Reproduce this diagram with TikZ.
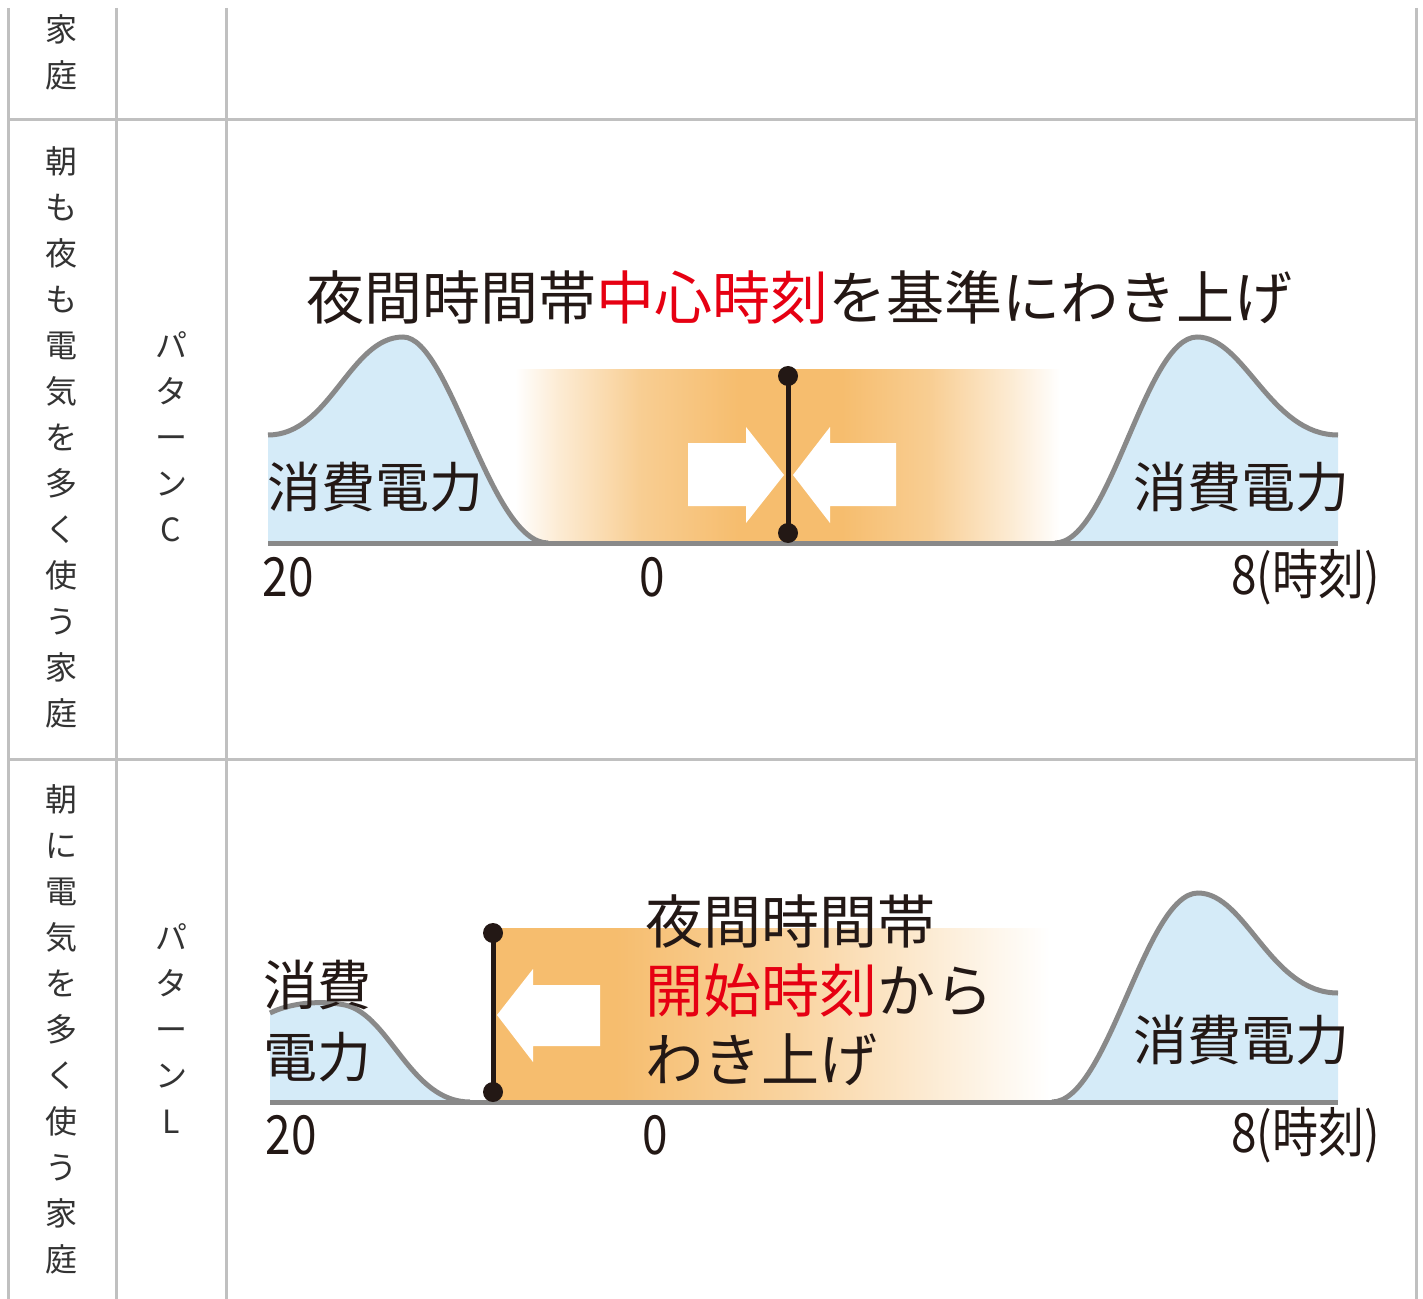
\documentclass[tikz,border=0pt]{standalone}
\usepackage{fontspec}
\setmainfont{Noto Sans CJK JP}
\newfontfamily\narrowfont{Noto Sans CJK JP}[FakeStretch=0.85]
\usetikzlibrary{positioning}
\definecolor{gridgray}{RGB}{192,192,192}
\definecolor{celltext}{RGB}{51,51,51}
\definecolor{curvegray}{RGB}{137,137,137}
\definecolor{bumpblue}{RGB}{213,235,248}
\definecolor{bandorange}{RGB}{246,189,110}
\definecolor{inkblack}{RGB}{35,24,21}
\definecolor{accentred}{RGB}{230,0,18}
% night-band fades (path box = 25bp..75bp)
\pgfdeclarehorizontalshading{nightC}{100bp}{color(0bp)=(white); color(25bp)=(white);
  color(29bp)=(bandorange!30); color(36.5bp)=(bandorange!75); color(45.5bp)=(bandorange);
  color(55bp)=(bandorange); color(63bp)=(bandorange!75); color(70.5bp)=(bandorange!30);
  color(75bp)=(white); color(100bp)=(white)}
\pgfdeclarehorizontalshading{nightL}{100bp}{color(0bp)=(bandorange); color(36bp)=(bandorange);
  color(52bp)=(bandorange!65); color(66bp)=(bandorange!25); color(75bp)=(white);
  color(100bp)=(white)}
\tikzset{
  rule/.style={draw=gridgray, line width=1.5pt},
  vch/.style={font=\fontsize{16}{16}\selectfont, text=celltext, inner sep=0pt,
    text height=0.88em, text depth=0.12em},
  lbl/.style={font=\fontsize{27}{36}\selectfont, text=inkblack, inner sep=0pt},
  ttl/.style={font=\fontsize{29}{34.5}\selectfont, text=inkblack, inner sep=0pt},
  tick/.style={font=\narrowfont\fontsize{27}{27}\selectfont, text=inkblack, inner sep=0pt},
  curve/.style={draw=curvegray, line width=2.5pt},
  pin/.style={circle, fill=inkblack, minimum size=10pt, inner sep=0pt},
  pole/.style={draw=inkblack, line width=2.5pt},
}
\begin{document}
\begin{tikzpicture}[x=0.5pt, y=-0.5pt]
  \useasboundingbox (0,0) rectangle (1423,1299);
  % table rules
  \foreach \x in {8,116,226,1416} \draw[rule] (\x,8) -- (\x,1299);
  \foreach \y in {120,759} \draw[rule] (7,\y) -- (1418,\y);
  % row captions
  \foreach \ch [count=\i] in {家,庭}
    \node[vch] (top\i) at (62,{34+46*(\i-1)}) {\ch};
  \foreach \ch [count=\i] in {朝,も,夜,も,電,気,を,多,く,使,う,家,庭}
    \node[vch] (rowC\i) at (62,{166+46*(\i-1)}) {\ch};
  \foreach \ch [count=\i] in {パ,タ,ー,ン,C}
    \node[vch] (patC\i) at (171,{350+46*(\i-1)}) {\ch};
  \foreach \ch [count=\i] in {朝,に,電,気,を,多,く,使,う,家,庭}
    \node[vch] (rowL\i) at (62,{804+46*(\i-1)}) {\ch};
  \foreach \ch [count=\i] in {パ,タ,ー,ン,L}
    \node[vch] (patL\i) at (171,{942+46*(\i-1)}) {\ch};

  % --- pattern C: centred on the middle of the night band
  \shade[shading=nightC] (515,370) rectangle (1060,543);
  \fill[bumpblue] (268,543) -- (268,435) .. controls (330,435) and (350,337) .. (403,337)
    .. controls (450,337) and (490,543) .. (548,543) -- cycle;
  \draw[curve] (268,435) .. controls (330,435) and (350,337) .. (403,337)
    .. controls (450,337) and (490,543) .. (548,543);
  \fill[bumpblue] (1055,543) .. controls (1110,543) and (1145,337) .. (1197,337)
    .. controls (1245,337) and (1270,435) .. (1338,435) -- (1338,543) -- cycle;
  \draw[curve] (1055,543) .. controls (1110,543) and (1145,337) .. (1197,337)
    .. controls (1245,337) and (1270,435) .. (1338,435);
  \draw[curve] (268,543) -- (1338,543);
  \fill[white] (688,443) -- (746,443) -- (746,427) -- (784,475) -- (746,523)
    -- (746,506) -- (688,506) -- cycle;
  \fill[white] (896,443) -- (830,443) -- (830,427) -- (793,475) -- (830,523)
    -- (830,506) -- (896,506) -- cycle;
  \node[pin] (cTop) at (788,376) {};
  \node[pin] (cBot) at (788,533) {};
  \draw[pole] (cTop.center) -- (cBot.center);
  \node[ttl] (headC) at (799,297)
    {夜間時間帯\textcolor{accentred}{中心時刻}を基準にわき上げ};
  \node[lbl] (useCl) at (375,487) {消費電力};
  \node[lbl] (useCr) at (1241,487) {消費電力};
  \node[tick] (tC20) at (288,577) {20};
  \node[tick] (tC0) at (652,577) {0};
  \node[tick, anchor=east] (tC8) at (1380,577) {8(時刻)};

  % --- pattern L: from the start of the night band
  \shade[shading=nightL] (493,928) rectangle (1050,1102);
  \fill[bumpblue] (270,1102) -- (270,1013) .. controls (290,1003) and (320,1000) .. (345,1005)
    .. controls (390,1015) and (410,1102) .. (470,1102) -- cycle;
  \draw[curve] (270,1013) .. controls (290,1003) and (320,1000) .. (345,1005)
    .. controls (390,1015) and (410,1102) .. (470,1102);
  \fill[bumpblue] (1052,1102) .. controls (1108,1102) and (1145,893) .. (1198,893)
    .. controls (1246,893) and (1270,993) .. (1338,993) -- (1338,1102) -- cycle;
  \draw[curve] (1052,1102) .. controls (1108,1102) and (1145,893) .. (1198,893)
    .. controls (1246,893) and (1270,993) .. (1338,993);
  \draw[curve] (270,1102) -- (1338,1102);
  \fill[white] (600,985) -- (533,985) -- (533,969) -- (497,1015) -- (533,1062)
    -- (533,1046) -- (600,1046) -- cycle;
  \node[pin] (lTop) at (493,933) {};
  \node[pin] (lBot) at (493,1092) {};
  \draw[pole] (lTop.center) -- (lBot.center);
  \node[ttl, anchor=west, align=left] (headL) at (645,990)
    {夜間時間帯\\\textcolor{accentred}{開始時刻}から\\わき上げ};
  \node[lbl, anchor=west, align=left] (useLl) at (263,1021) {消費\\電力};
  \node[lbl] (useLr) at (1241,1040) {消費電力};
  \node[tick] (tL20) at (291,1135) {20};
  \node[tick] (tL0) at (655,1135) {0};
  \node[tick, anchor=east] (tL8) at (1380,1135) {8(時刻)};
\end{tikzpicture}
\end{document}
